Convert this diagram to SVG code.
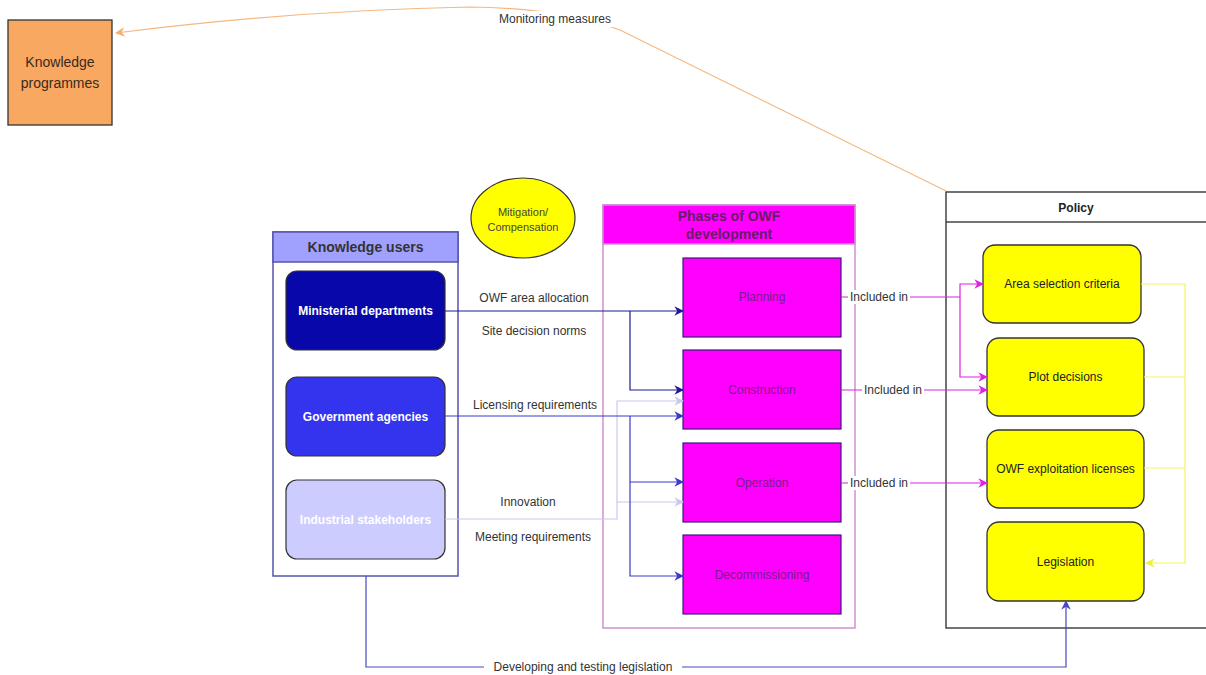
<svg xmlns="http://www.w3.org/2000/svg" width="1206" height="675" viewBox="0 0 1206 675">
<style>
text{font-family:"Liberation Sans",Arial,sans-serif;text-anchor:middle;dominant-baseline:central}
.lbl{font-size:12px;fill:#333}
.user{stroke:#333;stroke-width:1.2}
.ut{font-size:12px;font-weight:bold;fill:#fff}
.phase{fill:#FF00FF;stroke:#3a1a7a;stroke-width:1.2}
.pt{font-size:12px;fill:#7a1a8a}
.pol{fill:#FFFF00;stroke:#333;stroke-width:1.3}
.polt{font-size:12px;fill:#222}
.c{fill:none;stroke-width:1.2}
.bg{fill:#fff}
</style>
<defs>
<marker id="aO" viewBox="0 0 10 10" refX="9" refY="5" markerWidth="8" markerHeight="8" orient="auto"><path d="M0,0 L10,5 L0,10 L3,5z" fill="#F5B070"/></marker>
<marker id="aN" viewBox="0 0 10 10" refX="9" refY="5" markerWidth="8" markerHeight="8" orient="auto"><path d="M0,0 L10,5 L0,10 L3,5z" fill="#1A1A99"/></marker>
<marker id="aB" viewBox="0 0 10 10" refX="9" refY="5" markerWidth="8" markerHeight="8" orient="auto"><path d="M0,0 L10,5 L0,10 L3,5z" fill="#3A3ACC"/></marker>
<marker id="aL" viewBox="0 0 10 10" refX="9" refY="5" markerWidth="8" markerHeight="8" orient="auto"><path d="M0,0 L10,5 L0,10 L3,5z" fill="#C8C8F0"/></marker>
<marker id="aM" viewBox="0 0 10 10" refX="9" refY="5" markerWidth="8" markerHeight="8" orient="auto"><path d="M0,0 L10,5 L0,10 L3,5z" fill="#E020E0"/></marker>
<marker id="aY" viewBox="0 0 10 10" refX="9" refY="5" markerWidth="8" markerHeight="8" orient="auto"><path d="M0,0 L10,5 L0,10 L3,5z" fill="#F0F040"/></marker>
<marker id="aS" viewBox="0 0 10 10" refX="9" refY="5" markerWidth="8" markerHeight="8" orient="auto"><path d="M0,0 L10,5 L0,10 L3,5z" fill="#4848C0"/></marker>
</defs>
<rect width="1206" height="675" fill="#fff"/>

<g id="knowledge-programmes">
<rect x="8" y="20" width="104" height="105" fill="#F9A862" stroke="#333" stroke-width="1.3"/>
<text x="60" y="62" font-size="14" fill="#3a2a1a">Knowledge</text>
<text x="60" y="83" font-size="14" fill="#3a2a1a">programmes</text>
</g>

<g id="mitigation">
<ellipse cx="523" cy="218" rx="52" ry="40" fill="#FFFF00" stroke="#333" stroke-width="1.2"/>
<text x="523" y="212" font-size="11" fill="#444">Mitigation/</text>
<text x="523" y="227" font-size="11" fill="#444">Compensation</text>
</g>

<g id="knowledge-users">
<rect x="273" y="232" width="185" height="344" fill="#fff" stroke="#5555AA" stroke-width="1.5"/>
<rect x="273" y="232" width="185" height="30" fill="#A0A0FF" stroke="#5555AA" stroke-width="1.5"/>
<text x="365.500" y="247" font-size="14" font-weight="bold" fill="#333">Knowledge users</text>
</g>
<g id="ministerial-departments">
<rect x="286" y="271" width="159" height="79" rx="11" fill="#0808AA" class="user"/>
<text x="365.500" y="311" class="ut">Ministerial departments</text>
</g>
<g id="government-agencies">
<rect x="286" y="377" width="159" height="79" rx="11" fill="#3434EE" class="user"/>
<text x="365.500" y="417" class="ut">Government agencies</text>
</g>
<g id="industrial-stakeholders">
<rect x="286" y="480" width="159" height="79" rx="11" fill="#CCCCFF" class="user"/>
<text x="365.500" y="520" class="ut">Industrial stakeholders</text>
</g>

<g id="phases">
<rect x="603" y="205" width="252" height="423" fill="#fff" stroke="#D090D0" stroke-width="1.5"/>
<rect x="603" y="205" width="252" height="39" fill="#FF00FF" stroke="#D090D0" stroke-width="1.5"/>
<text x="729" y="216" font-size="14" font-weight="bold" fill="#6a1a6a">Phases of OWF</text>
<text x="729" y="234" font-size="14" font-weight="bold" fill="#6a1a6a">development</text>
</g>
<g id="planning"><rect x="683" y="258" width="158" height="79" class="phase"/><text x="762" y="297" class="pt">Planning</text></g>
<g id="construction"><rect x="683" y="350" width="158" height="79" class="phase"/><text x="762" y="390" class="pt">Construction</text></g>
<g id="operation"><rect x="683" y="443" width="158" height="79" class="phase"/><text x="762" y="483" class="pt">Operation</text></g>
<g id="decommissioning"><rect x="683" y="535" width="158" height="79" class="phase"/><text x="762" y="575" class="pt">Decommissioning</text></g>

<g id="policy">
<rect x="946" y="192" width="265" height="436" fill="#fff" stroke="#444" stroke-width="1.5"/>
<line x1="946" y1="222" x2="1206" y2="222" stroke="#444" stroke-width="1.5"/>
<text x="1076" y="208" font-size="12" font-weight="bold" fill="#222">Policy</text>
</g>
<g id="area-selection"><rect x="983" y="245" width="158" height="78" rx="12" class="pol"/><text x="1062" y="284" class="polt">Area selection criteria</text></g>
<g id="plot-decisions"><rect x="987" y="338" width="157" height="78" rx="12" class="pol"/><text x="1065.500" y="377" class="polt">Plot decisions</text></g>
<g id="owf-licenses"><rect x="987" y="430" width="157" height="78" rx="12" class="pol"/><text x="1065.500" y="469" class="polt">OWF exploitation licenses</text></g>
<g id="legislation"><rect x="987" y="522" width="157" height="79" rx="12" class="pol"/><text x="1065.500" y="562" class="polt">Legislation</text></g>

<g id="connectors">
<path class="c" d="M946,191 L620,30 Q560,8 470,7 Q300,10 116,33" stroke="#F5B880" marker-end="url(#aO)"/>
<rect x="492" y="11" width="126" height="16" class="bg"/>
<text x="555" y="19" class="lbl" font-size="11">Monitoring measures</text>

<path class="c" d="M445,311 H683" stroke="#1A1A99" marker-end="url(#aN)"/>
<path class="c" d="M630,311 V390 H683" stroke="#1A1A99" marker-end="url(#aN)"/>
<text x="534" y="298" class="lbl">OWF area allocation</text>
<text x="534" y="331" class="lbl">Site decision norms</text>

<path class="c" d="M445,519 H617 V401 H683" stroke="#C8C8F0" marker-end="url(#aL)"/>
<path class="c" d="M617,502 H683" stroke="#C8C8F0" marker-end="url(#aL)"/>
<text x="528" y="502" class="lbl">Innovation</text>
<text x="533" y="537" class="lbl">Meeting requirements</text>

<path class="c" d="M445,416 H683" stroke="#3A3ACC" marker-end="url(#aB)"/>
<path class="c" d="M630,416 V576 H683" stroke="#3A3ACC" marker-end="url(#aB)"/>
<path class="c" d="M630,482 H683" stroke="#3A3ACC" marker-end="url(#aB)"/>
<text x="535" y="405" class="lbl">Licensing requirements</text>

<path class="c" d="M841,297 H960 V284 H983" stroke="#E020E0" marker-end="url(#aM)"/>
<path class="c" d="M960,297 V377 H987" stroke="#E020E0" marker-end="url(#aM)"/>
<path class="c" d="M841,390 H987" stroke="#E020E0" marker-end="url(#aM)"/>
<path class="c" d="M841,483 H987" stroke="#E020E0" marker-end="url(#aM)"/>
<rect x="848" y="290" width="62" height="14" class="bg"/>
<text x="879" y="297" class="lbl">Included in</text>
<rect x="862" y="383" width="62" height="14" class="bg"/>
<text x="893" y="390" class="lbl">Included in</text>
<rect x="848" y="476" width="62" height="14" class="bg"/>
<text x="879" y="483" class="lbl">Included in</text>

<path class="c" d="M1141,284 H1185 V563 H1146" stroke="#F4F460" marker-end="url(#aY)"/>
<path class="c" d="M1144,377 H1185" stroke="#F4F460"/>
<path class="c" d="M1144,468 H1185" stroke="#F4F460"/>

<path class="c" d="M366,576 V667 H1066 V601" stroke="#4848C0" marker-end="url(#aS)"/>
<rect x="484" y="660" width="198" height="14" class="bg"/>
<text x="583" y="667" class="lbl">Developing and testing legislation</text>
</g>
</svg>
